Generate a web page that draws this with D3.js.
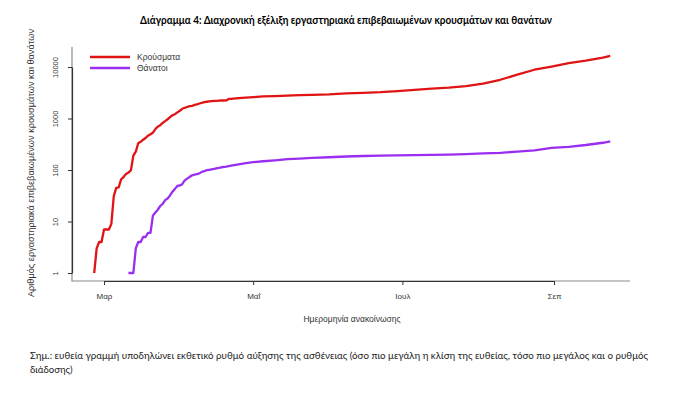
<!DOCTYPE html>
<html>
<head>
<meta charset="utf-8">
<script src="https://cdn.jsdelivr.net/npm/d3@7"></script>
<style>
  body { margin: 0; background: #fff; }
  svg { display: block; }
</style>
</head>
<body>
<div id="chart"></div>
<script>
// cumulative lab-confirmed cases (by announcement date)
const caseDates = ["2020-02-26","2020-02-27","2020-02-28","2020-02-29","2020-03-01","2020-03-02","2020-03-03","2020-03-04","2020-03-05","2020-03-06","2020-03-07","2020-03-08","2020-03-09","2020-03-10","2020-03-11","2020-03-12","2020-03-13","2020-03-14","2020-03-15","2020-03-16","2020-03-17","2020-03-18","2020-03-19","2020-03-20","2020-03-21","2020-03-22","2020-03-23","2020-03-24","2020-03-25","2020-03-26","2020-03-27","2020-03-28","2020-03-29","2020-03-30","2020-03-31","2020-04-01","2020-04-02","2020-04-03","2020-04-04","2020-04-05","2020-04-06","2020-04-07","2020-04-08","2020-04-09","2020-04-10","2020-04-11","2020-04-12","2020-04-13","2020-04-14","2020-04-15","2020-04-16","2020-04-17","2020-04-18","2020-04-19","2020-04-20","2020-04-21","2020-04-22","2020-04-25","2020-04-28","2020-05-01","2020-05-05","2020-05-10","2020-05-15","2020-05-20","2020-05-25","2020-06-01","2020-06-08","2020-06-15","2020-06-22","2020-06-29","2020-07-06","2020-07-13","2020-07-20","2020-07-27","2020-08-03","2020-08-10","2020-08-17","2020-08-24","2020-08-31","2020-09-07","2020-09-14","2020-09-21","2020-09-24"];
const caseValues = [1,3,4,4,7,7,7,9,31,45,46,66,73,84,89,99,190,228,331,352,387,418,464,495,530,624,695,743,821,892,966,1061,1156,1212,1314,1415,1544,1613,1673,1735,1755,1832,1884,1955,2011,2081,2114,2145,2170,2192,2207,2224,2235,2235,2245,2401,2408,2490,2534,2591,2678,2716,2770,2850,2878,2950,3080,3150,3240,3390,3580,3820,3990,4250,4750,5650,7100,8850,10200,11900,13300,15200,16400];

// cumulative deaths
const deathDates = ["2020-03-11","2020-03-12","2020-03-13","2020-03-14","2020-03-15","2020-03-16","2020-03-17","2020-03-18","2020-03-19","2020-03-20","2020-03-21","2020-03-22","2020-03-23","2020-03-24","2020-03-25","2020-03-26","2020-03-27","2020-03-28","2020-03-29","2020-03-30","2020-03-31","2020-04-01","2020-04-02","2020-04-03","2020-04-04","2020-04-05","2020-04-06","2020-04-07","2020-04-08","2020-04-09","2020-04-10","2020-04-11","2020-04-12","2020-04-13","2020-04-14","2020-04-15","2020-04-16","2020-04-17","2020-04-18","2020-04-20","2020-04-22","2020-04-25","2020-04-28","2020-05-01","2020-05-05","2020-05-10","2020-05-15","2020-05-20","2020-05-25","2020-06-01","2020-06-08","2020-06-15","2020-06-22","2020-06-29","2020-07-06","2020-07-13","2020-07-20","2020-07-27","2020-08-03","2020-08-10","2020-08-17","2020-08-24","2020-08-31","2020-09-07","2020-09-14","2020-09-21","2020-09-24"];
const deathValues = [1,1,1,3,4,4,5,5,6,6,13,15,17,20,22,26,28,32,38,43,49,50,53,63,68,73,79,81,83,86,92,95,99,101,103,105,108,110,113,116,121,128,136,142,148,154,162,167,172,177,183,187,191,193,194,196,198,203,211,216,228,240,268,282,306,338,360];

const monthTicks = ["2020-03-01","2020-05-01","2020-07-01","2020-09-01"];
const monthLabels = ["Μαρ","Μαΐ","Ιουλ","Σεπ"];
const yTicks = [1,10,100,1000,10000];
const seriesNames = ["Κρούσματα","Θάνατοι"];
const seriesColors = ["#e01414","#9a2ef0"];

const W = 692, H = 396;
const parse = d3.timeParse("%Y-%m-%d");

const svg = d3.select("#chart").append("svg")
  .attr("width", W).attr("height", H)
  .style("font-family", "'Liberation Sans', Arial, sans-serif");

const x = d3.scaleTime()
  .domain([parse(monthTicks[0]), parse(monthTicks[3])])
  .range([104, 554]);
const y = d3.scaleLog()
  .domain([1, 10000])
  .range([273, 67]);

const frameLeft = 72, frameRight = 630, frameTop = 47, frameBottom = 281;

// L-shaped box
svg.append("path")
  .attr("d", `M${frameLeft},${frameTop}V${frameBottom}H${frameRight}`)
  .attr("fill", "none")
  .attr("stroke", "#8a8a8a")
  .attr("stroke-width", 1.2);

// x axis
const gx = svg.append("g")
  .attr("transform", `translate(0,${frameBottom})`)
  .call(d3.axisBottom(x)
    .tickValues(monthTicks.map(parse))
    .tickFormat((d, i) => monthLabels[i])
    .tickSize(4).tickSizeOuter(0).tickPadding(8));
gx.select(".domain").attr("stroke", "#333").attr("stroke-width", 1.2);
gx.selectAll(".tick line").attr("stroke", "#333");
gx.selectAll("text").attr("fill", "#333").style("font-size", "8px")
  .style("font-family", "'Liberation Sans', Arial, sans-serif");

// y axis
const gy = svg.append("g")
  .attr("transform", `translate(${frameLeft},0)`)
  .call(d3.axisLeft(y)
    .tickValues(yTicks)
    .tickFormat(d3.format("d"))
    .tickSize(4).tickSizeOuter(0));
gy.select(".domain").attr("stroke", "#333").attr("stroke-width", 1.2);
gy.selectAll(".tick line").attr("stroke", "#333");
gy.selectAll("text")
  .attr("x", 0).attr("dy", null)
  .attr("transform", "translate(-16,0) rotate(-90)")
  .attr("text-anchor", "middle")
  .attr("dominant-baseline", "middle")
  .attr("fill", "#333").style("font-size", "7.5px")
  .style("font-family", "'Liberation Sans', Arial, sans-serif");

// lines
const line = d3.line()
  .x(d => x(d[0]))
  .y(d => y(d[1]));

const series = [
  d3.zip(caseDates.map(parse), caseValues),
  d3.zip(deathDates.map(parse), deathValues)
];

series.forEach((s, i) => {
  svg.append("path")
    .datum(s)
    .attr("d", line)
    .attr("fill", "none")
    .attr("stroke", seriesColors[i])
    .attr("stroke-width", 2.3)
    .attr("stroke-linejoin", "round");
});

// legend
seriesNames.forEach((name, i) => {
  const ly = 57 + i * 11;
  svg.append("line")
    .attr("x1", 90).attr("x2", 130).attr("y1", ly).attr("y2", ly)
    .attr("stroke", seriesColors[i]).attr("stroke-width", 2.3);
  svg.append("text")
    .attr("x", 137).attr("y", ly).attr("dy", "0.35em")
    .attr("fill", "#333").style("font-size", "8.5px")
    .text(name);
});

// titles
svg.append("text")
  .attr("x", 346).attr("y", 24)
  .attr("text-anchor", "middle")
  .style("font-family", "Lato, 'Open Sans', sans-serif")
  .style("font-weight", "bold").style("font-size", "10.5px")
  .attr("textLength", 412).attr("lengthAdjust", "spacingAndGlyphs")
  .text("Διάγραμμα 4: Διαχρονική εξέλιξη εργαστηριακά επιβεβαιωμένων κρουσμάτων και θανάτων");

svg.append("text")
  .attr("x", 352).attr("y", 322)
  .attr("text-anchor", "middle")
  .attr("fill", "#333").style("font-size", "8.5px")
  .text("Ημερομηνία ανακοίνωσης");

svg.append("text")
  .attr("transform", "translate(34,163) rotate(-90)")
  .attr("text-anchor", "middle")
  .attr("fill", "#333").style("font-size", "9px")
  .attr("textLength", 268).attr("lengthAdjust", "spacingAndGlyphs")
  .text("Αριθμός εργαστηριακά επιβεβαιωμένων κρουσμάτων και θανάτων");

// note under chart
const note = ["Σημ.: ευθεία γραμμή υποδηλώνει εκθετικό ρυθμό αύξησης της ασθένειας (όσο πιο μεγάλη η κλίση της ευθείας, τόσο πιο μεγάλος και ο ρυθμός", "διάδοσης)"];
note.forEach((t, i) => {
  const tx = svg.append("text")
    .attr("x", 30).attr("y", 359 + i * 14)
    .attr("fill", "#222")
    .style("font-family", "Lato, 'Open Sans', sans-serif")
    .style("font-size", "9.6px")
    .text(t);
  if (i === 0) tx.attr("textLength", 618).attr("lengthAdjust", "spacingAndGlyphs");
});
</script>
</body>
</html>
